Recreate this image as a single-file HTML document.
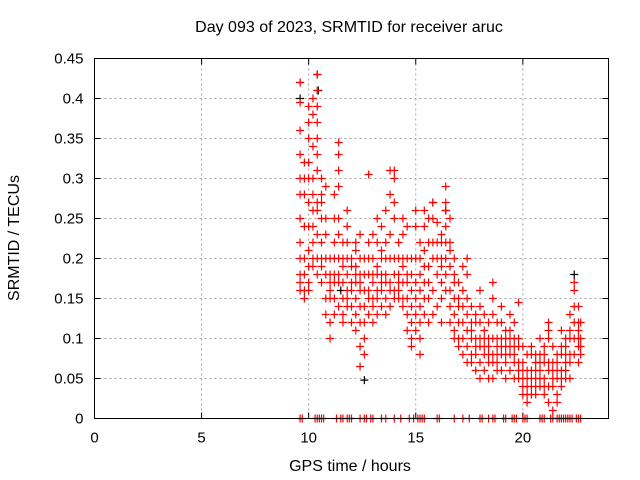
<!DOCTYPE html>
<html><head><meta charset="utf-8"><style>
body{margin:0;background:#fff;}
svg{display:block;font-family:"Liberation Sans",sans-serif;}
</style></head><body>
<svg id="chart" width="640" height="480">
<text x="349" y="32" text-anchor="middle" font-size="16">Day 093 of 2023, SRMTID for receiver aruc</text>
<text x="350" y="471" text-anchor="middle" font-size="16">GPS time / hours</text>
<text transform="translate(19,238) rotate(-90)" text-anchor="middle" font-size="16">SRMTID / TECUs</text>
<g id="grid"></g><g id="ticks"></g><g id="marks"></g>
<rect x="94.5" y="58.5" width="514" height="360" fill="none" stroke="#000"/>
</svg>
<script>
const xTicks=[0,5,10,15,20];
const yTicks=[0,0.05,0.1,0.15,0.2,0.25,0.3,0.35,0.4,0.45];
const yTickLabels=["0","0.05","0.1","0.15","0.2","0.25","0.3","0.35","0.4","0.45"];
const times=[9.6,9.8,10.0,10.2,10.4,10.6,10.8,11.0,11.2,11.4,11.6,11.8,12.0,12.2,12.4,12.6,12.8,13.0,13.2,13.4,13.6,13.8,14.0,14.2,14.4,14.6,14.8,15.0,15.2,15.4,15.6,15.8,16.0,16.2,16.4,16.6,16.8,17.0,17.2,17.4,17.6,17.8,18.0,18.2,18.4,18.6,18.8,19.0,19.2,19.4,19.6,19.8,20.0,20.2,20.4,20.6,20.8,21.0,21.2,21.4,21.6,21.8,22.0,22.2,22.4,22.6,22.7];
const values=[
[0.42,0.42,0.395,0.36,0.33,0.3,0.28,0.25,0.22,0.2,0.18,0.17,0.16],
[0.32,0.3,0.28,0.24,0.2,0.18,0.16,0.15],
[0.39,0.37,0.35,0.32,0.3,0.27,0.24,0.21,0.19,0.17,0.16],
[0.4,0.38,0.34,0.3,0.28,0.26,0.24,0.22,0.2,0.19],
[0.43,0.41,0.39,0.37,0.35,0.33,0.31,0.27,0.26,0.23,0.2,0.18],
[0.3,0.28,0.27,0.25,0.22,0.2,0.19,0.17],
[0.29,0.25,0.23,0.2,0.18,0.15,0.13],
[0.2,0.18,0.17,0.16,0.15,0.12,0.1],
[0.28,0.25,0.22,0.2,0.18,0.17,0.15,0.13],
[0.345,0.33,0.31,0.29,0.25,0.23,0.2,0.18,0.17,0.14],
[0.22,0.2,0.19,0.17,0.15,0.13,0.12],
[0.26,0.24,0.22,0.2,0.18,0.16,0.15,0.14],
[0.2,0.19,0.17,0.16,0.14,0.12],
[0.22,0.21,0.19,0.18,0.17,0.15,0.13,0.11],
[0.23,0.2,0.18,0.17,0.16,0.14,0.12,0.09,0.065],
[0.2,0.18,0.16,0.14,0.12,0.1,0.08],
[0.305,0.22,0.2,0.18,0.16,0.15,0.13],
[0.23,0.2,0.18,0.17,0.15,0.14,0.12],
[0.25,0.22,0.19,0.18,0.16,0.15,0.13],
[0.24,0.21,0.2,0.18,0.17,0.16,0.14],
[0.26,0.22,0.2,0.18,0.17,0.15,0.13],
[0.31,0.28,0.23,0.2,0.17,0.16,0.14],
[0.31,0.3,0.27,0.25,0.2,0.18,0.16,0.15],
[0.22,0.2,0.18,0.17,0.16,0.15],
[0.25,0.23,0.2,0.19,0.17,0.15,0.14],
[0.24,0.2,0.18,0.17,0.15,0.13,0.11],
[0.2,0.18,0.16,0.14,0.12,0.1,0.09],
[0.26,0.24,0.2,0.17,0.15,0.13,0.11],
[0.22,0.2,0.18,0.16,0.14,0.12,0.1,0.08],
[0.26,0.24,0.21,0.19,0.17,0.15,0.13],
[0.25,0.22,0.19,0.17,0.15,0.12],
[0.27,0.25,0.22,0.2,0.16,0.13],
[0.245,0.22,0.2,0.18,0.14],
[0.23,0.22,0.2,0.19,0.17,0.15,0.12],
[0.29,0.27,0.26,0.24,0.22,0.2,0.18,0.16],
[0.25,0.22,0.21,0.19,0.16,0.14,0.12],
[0.2,0.18,0.17,0.15,0.13,0.11,0.1],
[0.17,0.15,0.14,0.12,0.1,0.09],
[0.19,0.16,0.14,0.12,0.1,0.08],
[0.2,0.18,0.15,0.13,0.11,0.09,0.07],
[0.14,0.12,0.11,0.1,0.08,0.07],
[0.13,0.12,0.1,0.09,0.08,0.06],
[0.16,0.14,0.12,0.1,0.09,0.07,0.05],
[0.13,0.11,0.1,0.09,0.08,0.06],
[0.12,0.1,0.09,0.08,0.07,0.05],
[0.17,0.15,0.13,0.1,0.08,0.07,0.05],
[0.12,0.1,0.09,0.08,0.07,0.06],
[0.14,0.12,0.1,0.09,0.08,0.06],
[0.11,0.1,0.09,0.08,0.07,0.05],
[0.13,0.11,0.1,0.09,0.08,0.06],
[0.12,0.1,0.09,0.08,0.07,0.05],
[0.145,0.1,0.09,0.07,0.06,0.05],
[0.09,0.07,0.06,0.05,0.04,0.03],
[0.08,0.06,0.05,0.04,0.03,0.02],
[0.09,0.08,0.06,0.05,0.04,0.03],
[0.08,0.07,0.06,0.05,0.04,0.03],
[0.1,0.08,0.07,0.06,0.05,0.04],
[0.09,0.08,0.07,0.05,0.04,0.03],
[0.12,0.11,0.1,0.07,0.06,0.04,0.02],
[0.09,0.07,0.06,0.05,0.04,0.01],
[0.08,0.07,0.06,0.05,0.03,0.02],
[0.11,0.09,0.08,0.06,0.05,0.04],
[0.1,0.09,0.08,0.07,0.06,0.05],
[0.13,0.11,0.1,0.08,0.07,0.05],
[0.17,0.16,0.14,0.12,0.1,0.08],
[0.14,0.12,0.11,0.1,0.09,0.07],
[0.12,0.1,0.09,0.08]];
const zeroTimes=[9.6,9.7,10.3,10.4,10.5,10.6,10.7,11.3,11.5,11.6,11.8,11.9,12.0,12.4,12.6,12.7,12.9,13.0,13.4,13.6,14.0,14.3,14.7,14.9,15.1,15.2,15.3,15.4,16.0,16.1,16.8,17.2,17.5,18.0,18.1,18.4,18.6,18.7,19.1,19.2,19.5,19.6,19.7,20.0,20.1,20.2,20.8,20.9,21.0,21.3,21.4,21.6,21.7,21.8,21.9,22.0,22.1,22.2,22.3,22.5,22.6,22.7];
const blackTimes=[9.6,10.4,10.45,12.6,15.8,16.4,22.4,11.5];
const blackValues=[0.4,0.43,0.41,0.048,0.27,0.26,0.18,0.16];

const NS="http://www.w3.org/2000/svg";
const L=94.5,R=608.5,T=58.5,B=418.5;
const xs=v=>L+v/24*(R-L);
const ys=v=>B-v/0.45*(B-T);
function mk(tag,attrs,parent){const e=document.createElementNS(NS,tag);for(const k in attrs)e.setAttribute(k,attrs[k]);parent.appendChild(e);return e;}
const grid=document.getElementById('grid'),ticks=document.getElementById('ticks'),marks=document.getElementById('marks');
xTicks.forEach(t=>{const x=xs(t);
 if(t>0){const g=mk('line',{x1:x,x2:x,y1:T,y2:B,stroke:'#a0a0a0','stroke-dasharray':'2,3'},grid);
 
 }
 mk('line',{x1:x,x2:x,y1:B,y2:B-6,stroke:'#000'},ticks);
 mk('line',{x1:x,x2:x,y1:T,y2:T+6,stroke:'#000'},ticks);
 const tx=mk('text',{x:x,y:B+24,'text-anchor':'middle','font-size':15},ticks);tx.textContent=String(t);
 
 
});
yTicks.forEach((t,i)=>{const y=ys(t);
 if(i>0&&i<yTicks.length-1){const g=mk('line',{x1:L,x2:R,y1:y,y2:y,stroke:'#a0a0a0','stroke-dasharray':'2,3'},grid);
 
 }
 mk('line',{x1:L,x2:L+6,y1:y,y2:y,stroke:'#000'},ticks);
 mk('line',{x1:R,x2:R-6,y1:y,y2:y,stroke:'#000'},ticks);
 const tx=mk('text',{x:L-11,y:y+5,'text-anchor':'end','font-size':15},ticks);tx.textContent=yTickLabels[i];
 
 
});
function plus(t,v,color){const x=xs(t),y=ys(v);
 const p=mk('path',{d:`M${x-4},${y}H${x+4}M${x},${y-4}V${y+4}`,stroke:color,'stroke-width':1.2,fill:'none'},marks);
 
 }
blackTimes.forEach((t,i)=>plus(t,blackValues[i],'#000'));
times.forEach((t,i)=>values[i].forEach(v=>plus(t,v,'#f00')));
zeroTimes.forEach(t=>plus(t,0,'#f00'));
</script>
</body></html>
